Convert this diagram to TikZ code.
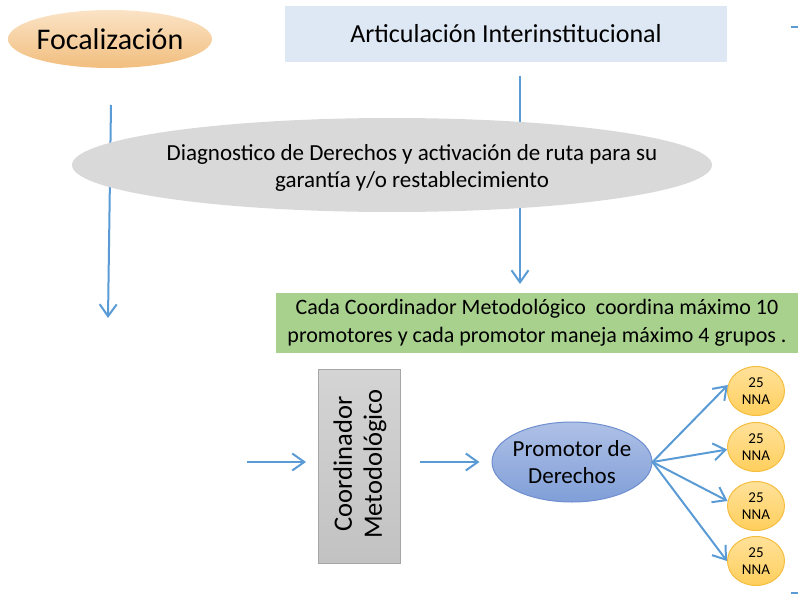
\documentclass[tikz,border=0pt]{standalone}
\usepackage{fontspec}
\setmainfont{Carlito}
\usetikzlibrary{arrows.meta,shapes.geometric,calc}
\definecolor{arr}{HTML}{5B9BD5}
\definecolor{focA}{HTML}{FBE3C6}
\definecolor{focB}{HTML}{F1BE7E}
\definecolor{artic}{HTML}{DEE8F4}
\definecolor{diagc}{HTML}{D9D9D9}
\definecolor{greenc}{HTML}{A9D18E}
\definecolor{coordA}{HTML}{D4D4D4}
\definecolor{coordB}{HTML}{C2C2C2}
\definecolor{promA}{HTML}{AEC0E6}
\definecolor{promB}{HTML}{809FD8}
\definecolor{promD}{HTML}{6E8ED0}
\definecolor{nnaA}{HTML}{FFE19A}
\definecolor{nnaB}{HTML}{FFCF5C}
\definecolor{nnaD}{HTML}{F5BE3F}
\tikzset{
  flow/.style={draw=arr, line width=2pt, line join=round,
    -{Straight Barb[length=12pt,width=17pt,line width=2pt]}},
  nna/.style={ellipse, minimum width=57pt, minimum height=49pt, inner sep=-6pt, draw=nnaD, line width=1pt,
    top color=nnaA, bottom color=nnaB, align=center, font=\fontsize{15}{17}\selectfont},
}
\begin{document}
\begin{tikzpicture}[x=1pt,y=-1pt]
\useasboundingbox (0,0) rectangle (798,594);
% coordinates for free ends
\coordinate (l1) at (111,105);
\coordinate (l2) at (108,318);
\coordinate (r1) at (520,76);
\coordinate (r2) at (520,284);
\coordinate (h1) at (247,462);
\coordinate (h2) at (306,462);
\coordinate (t1) at (791,27);
\coordinate (t2) at (798,27);
\coordinate (b1) at (791,593);
\coordinate (b2) at (798,593);
\draw[flow] (l1) -- (l2);
\draw[flow] (r1) -- (r2);
\draw[flow] (h1) -- (h2);
\draw[draw=arr, line width=2pt] (t1) -- (t2);
\draw[draw=arr, line width=2pt] (b1) -- (b2);

\node[ellipse, minimum width=204pt, minimum height=58pt, inner sep=-10pt,
  top color=focA, bottom color=focB, font=\fontsize{30}{34}\selectfont] (focal) at (110,39) {Focalización};
\node[rectangle, minimum width=442pt, minimum height=56pt, inner sep=0pt, fill=artic,
  font=\fontsize{26}{30}\selectfont] (artic) at (506,34) {Articulación Interinstitucional};

\node[ellipse, minimum width=640pt, minimum height=94pt, inner sep=0pt, fill=diagc] (diag) at (392,165) {};
\node[align=center, font=\fontsize{23}{27}\selectfont, inner sep=0pt] (diagtext) at (412,168)
  {Diagnostico de Derechos y activación de ruta para su\\garantía y/o restablecimiento};

\node[rectangle, minimum width=522pt, minimum height=60pt, inner sep=0pt, fill=greenc,
  align=center, font=\fontsize{22}{28}\selectfont] (green) at (537,323)
  {Cada Coordinador Metodológico\ \ coordina máximo 10\\promotores y cada promotor maneja máximo 4 grupos .};

\node[rectangle, minimum width=82pt, minimum height=194pt, inner sep=0pt, draw=gray!70,
  top color=coordA, bottom color=coordB] (coord) at (359,466) {};
\node[rotate=90, align=center, font=\fontsize{26.5}{30}\selectfont, inner sep=0pt] (coordtext) at (360,464)
  {Coordinador\\Metodológico};

\coordinate (h3) at (420,462);
\node[ellipse, minimum width=160pt, minimum height=80pt, inner xsep=-12pt, inner ysep=-6pt,
  draw=promD, line width=1pt,
  top color=promA, bottom color=promB, align=center, font=\fontsize{23}{27}\selectfont] (prom) at (572,462)
  {Promotor de\\Derechos};
\draw[flow] (h3) -- ($(prom.west)+(-12,0)$);

\node[nna] (c1) at (756,391) {25\\NNA};
\node[nna] (c2) at (756,447) {25\\NNA};
\node[nna] (c3) at (756,506) {25\\NNA};
\node[nna] (c4) at (756,561) {25\\NNA};

\draw[flow] (prom.east) -- (c1.168);
\draw[flow] (prom.east) -- (c2.185);
\draw[flow] (prom.east) -- (c3.170);
\draw[flow] (prom.east) -- (c4.180);
\end{tikzpicture}
\end{document}
